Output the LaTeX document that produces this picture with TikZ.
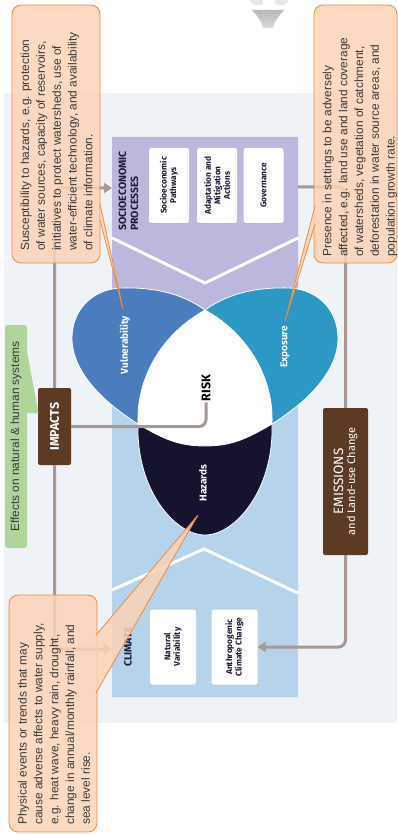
\documentclass[tikz,border=0pt]{standalone}
\usepackage{fontspec}
\setmainfont{Liberation Sans}
\newfontfamily\labelfont{Fira Sans}
\usetikzlibrary{arrows.meta}

\definecolor{panel}{HTML}{EFF2F7}
\definecolor{socioc}{HTML}{BCB7DC}
\definecolor{climc}{HTML}{B5D3EA}
\definecolor{vulnc}{HTML}{4A7CBE}
\definecolor{expoc}{HTML}{2C98C5}
\definecolor{hazc}{HTML}{16132F}
\definecolor{brownc}{HTML}{5C3A23}
\definecolor{linkc}{HTML}{A89891}
\definecolor{peach}{HTML}{FBD3B7}
\definecolor{orangec}{HTML}{EF8B3E}
\definecolor{leaf}{HTML}{B0D59A}
\definecolor{ink}{HTML}{1E1C36}
\definecolor{calltext}{HTML}{3A3A3A}

\begin{document}
\begin{tikzpicture}[x=1pt,y=-1pt,
  link/.style={draw=linkc, line width=3pt, rounded corners=7pt},
  linkarrow/.style={link, -{Triangle[length=8pt,width=10pt]}},
  subbox/.style={fill=white, rounded corners=2.5pt, rotate=90, minimum width=75pt,
    inner sep=1pt, align=center, text=ink,
    font=\labelfont\bfseries\fontsize{8.3}{9.5}\selectfont},
  heading/.style={rotate=90, text=ink, align=left, inner sep=0pt,
    font=\labelfont\bfseries\fontsize{10.5}{12}\selectfont},
  petallabel/.style={rotate=90, text=white, inner sep=0pt,
    font=\labelfont\bfseries\fontsize{10}{12}\selectfont},
  brownbox/.style={rotate=90, fill=brownc, rounded corners=2pt, text=white,
    align=center, inner sep=0pt},
  callout/.style={rotate=90, fill=peach, fill opacity=0.85, draw=orangec,
    line width=0.8pt, rounded corners=9pt, inner sep=0pt},
  callouttext/.style={rotate=90, anchor=west, align=left, inner sep=0pt,
    text=calltext, font=\fontsize{11.9}{15.8}\selectfont},
  tailfill/.style={fill=peach, fill opacity=0.85},
  tailedge/.style={draw=orangec, line width=0.8pt},
  chevron/.style={draw=white, line width=3pt},
  petaledge/.style={draw=white, line width=0.8pt}
]
\useasboundingbox (0,0) rectangle (397,834);

% light backdrop
\fill[panel] (4,93) rectangle (397,723);

% partial icon at the top edge
\fill[gray!18] (249,0) .. controls (251,5) and (258,7) .. (263,4) -- (263,0) -- cycle;
\fill[gray!18] (275,0) -- (275,4) .. controls (280,7) and (287,5) .. (289,0) -- cycle;
\shade[top color=gray!55, bottom color=gray!30] (252,10) .. controls (258,17) and (262,22) .. (263,28)
  -- (273,28) .. controls (274,22) and (278,17) .. (284,10) -- cycle;

% socioeconomic band
\fill[socioc] (112,137) -- (298,137) -- (298,300) -- (205,335) -- (112,300) -- cycle;
\draw[chevron] (112,238) -- (205,283) -- (298,238);
\coordinate (socioin) at (112,188);
\coordinate (socioout) at (298,187);

% climate band
\fill[climc] (112,395) -- (205,370) -- (298,395) -- (298,697) -- (112,697) -- cycle;
\draw[chevron] (112,590) -- (204,549) -- (298,593);
\coordinate (climin) at (112,649);

% boxes inside the bands
\node[subbox, minimum height=40pt] (pathways) at (169,185.5) {Socioeconomic\\Pathways};
\node[subbox, minimum height=40pt] (actions) at (217,185.5) {Adaptation and\\Mitigation\\Actions};
\node[subbox, minimum height=40pt] (governance) at (263.5,185.5) {Governance};
\node[heading, anchor=north west] (sociohead) at (118.5,231) {SOCIOECONOMIC\\PROCESSES};

\node[subbox, minimum height=46pt] (natural) at (173,647) {Natural\\Variability};
\node[subbox, minimum height=46pt] (anthro) at (234.5,647) {Anthropogenic\\Climate Change};
\node[heading] (climhead) at (128,647) {CLIMATE};

% risk core
\fill[white] (205,310) .. controls (160,335) and (136,380) .. (138,424)
  .. controls (165,440) and (180,446) .. (205,446)
  .. controls (230,446) and (245,440) .. (272,424)
  .. controls (274,380) and (250,335) .. (205,310) -- cycle;

% vulnerability petal
\filldraw[fill=vulnc, petaledge] (205,310) .. controls (180,292) and (150,287) .. (120,288)
  .. controls (90,290) and (72,312) .. (72,338)
  .. controls (72,370) and (100,400) .. (138,424)
  .. controls (136,380) and (160,335) .. (205,310) -- cycle;

% exposure petal
\filldraw[fill=expoc, petaledge] (205,310) .. controls (230,292) and (260,287) .. (290,288)
  .. controls (320,290) and (338,312) .. (338,338)
  .. controls (338,370) and (310,400) .. (272,424)
  .. controls (274,380) and (250,335) .. (205,310) -- cycle;

% hazards petal
\filldraw[fill=hazc, petaledge] (138,424) .. controls (136,490) and (175,535) .. (205,535)
  .. controls (235,535) and (274,490) .. (272,424)
  .. controls (245,440) and (230,446) .. (205,446)
  .. controls (180,446) and (165,440) .. (138,424) -- cycle;

\node[petallabel] (vlabel) at (125,345) {Vulnerability};
\node[petallabel] (elabel) at (285,347) {Exposure};
\node[petallabel] (hlabel) at (203,483) {Hazards};
\node[rotate=90, inner sep=1pt, text=black,
  font=\labelfont\bfseries\fontsize{12.5}{14}\selectfont] (risk) at (206,388) {RISK};

% outcome and driver boxes
\node[brownbox, minimum width=77pt, minimum height=33pt,
  font=\labelfont\bfseries\fontsize{12.5}{14}\selectfont] (impacts) at (54.5,426.5) {IMPACTS};
\node[brownbox, minimum width=147pt, minimum height=45pt, font=\labelfont] (emis) at (345.5,481.5)
  {{\fontsize{13.5}{16}\selectfont EMISSIONS}\\{\fontsize{11}{14}\selectfont and Land-use Change}};

% connectors
\draw[linkarrow] (impacts.east) |- (socioin);
\draw[linkarrow] (impacts.west) |- (climin);
\draw[link] (risk.west) |- (impacts.south);
\draw[link] (socioout) -| (emis.east);
\draw[linkarrow] (emis.west) |- (anthro.south);

% effects note
\node[rotate=90, fill=leaf, rounded corners=3pt, minimum width=223pt, minimum height=22pt,
  inner sep=0pt, text=calltext, font=\fontsize{11.9}{13}\selectfont] (effects) at (16,436.5)
  {Effects on natural \& human systems};
\coordinate (ef1) at (27,352);
\coordinate (ef2) at (27,413);
\coordinate (eftip) at (38.5,413);
\fill[leaf] (ef1) -- (eftip) -- (ef2) -- cycle;

% vulnerability note
\node[callout, minimum width=258pt, minimum height=88pt] (vulncall) at (56,134) {};
\coordinate (vc1) at (100,204);
\coordinate (vc2) at (100,220);
\coordinate (vtip) at (123,309);
\fill[tailfill] (vc1) -- (vtip) -- (vc2) -- cycle;
\draw[tailedge] (vc1) -- (vtip) -- (vc2);
\node[callouttext] (vulntext) at (56.5,251)
  {Susceptibility to hazards, e.g. protection\\
   of water sources, capacity of reservoirs,\\
   initiatives to protect watersheds, use of\\
   water-efficient technology, and availability\\
   of climate information.};

% exposure note
\node[callout, minimum width=258pt, minimum height=83pt] (expocall) at (355.5,134) {};
\coordinate (ec1) at (315,206);
\coordinate (ec2) at (315,224);
\coordinate (etip) at (285,321);
\fill[tailfill] (ec1) -- (etip) -- (ec2) -- cycle;
\draw[tailedge] (ec1) -- (etip) -- (ec2);
\node[callouttext] (expotext) at (360,257)
  {Presence in settings to be adversely\\
   affected, e.g. land use and land coverage\\
   of watersheds, vegetation of catchment,\\
   deforestation in water source areas, and\\
   population growth rate.};

% hazards note
\node[callout, minimum width=237pt, minimum height=88pt] (hazcall) at (53,713.5) {};
\coordinate (hc1) at (96,635);
\coordinate (hc2) at (96,693);
\coordinate (htip) at (198,515);
\fill[tailfill] (hc1) -- (htip) -- (hc2) -- cycle;
\draw[tailedge] (hc1) -- (htip) -- (hc2);
\node[callouttext] (haztext) at (54,825)
  {Physical events or trends that may\\
   cause adverse affects to water supply,\\
   e.g. heat wave, heavy rain, drought,\\
   change in annual/monthly rainfall, and\\
   sea level rise.};
\end{tikzpicture}
\end{document}
